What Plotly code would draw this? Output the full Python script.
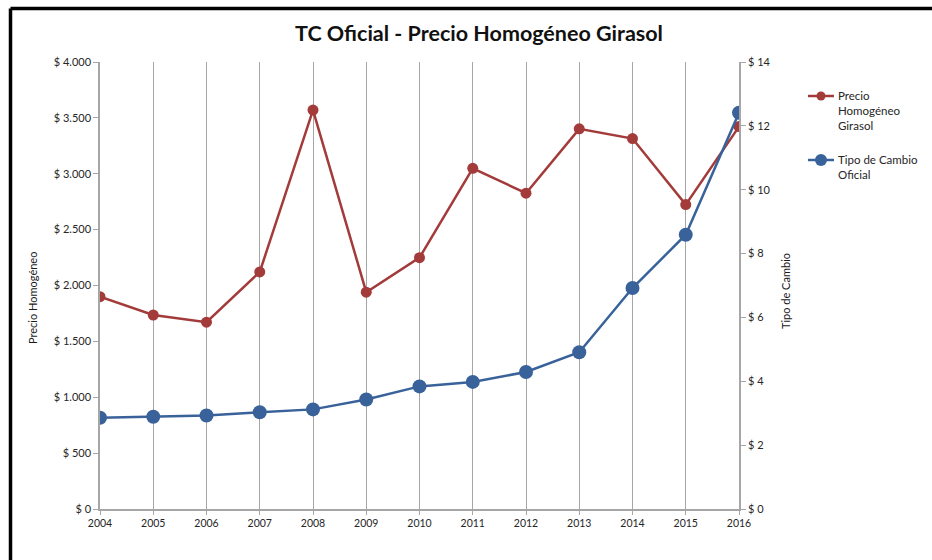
import plotly.graph_objects as go

# Years on the category axis
years = [2004, 2005, 2006, 2007, 2008, 2009, 2010, 2011, 2012, 2013, 2014, 2015, 2016]

# Precio Homogéneo Girasol ($ / t)
precio = [1900, 1736, 1672, 2121, 3570, 1940, 2249, 3049, 2826, 3402, 3315, 2724, 3422]

# Tipo de Cambio Oficial ($ por USD)
tipo_cambio = [2.86, 2.89, 2.93, 3.03, 3.12, 3.43, 3.84, 3.98, 4.29, 4.91, 6.92, 8.59, 12.41]

# Axis ticks
left_ticks = [0, 500, 1000, 1500, 2000, 2500, 3000, 3500, 4000]
left_labels = ["$ 0", "$ 500", "$ 1.000", "$ 1.500", "$ 2.000", "$ 2.500", "$ 3.000", "$ 3.500", "$ 4.000"]
right_ticks = [0, 2, 4, 6, 8, 10, 12, 14]
right_labels = ["$ 0", "$ 2", "$ 4", "$ 6", "$ 8", "$ 10", "$ 12", "$ 14"]

# Legend labels
series_names = ["Precio<br>Homogéneo<br>Girasol", "Tipo de Cambio<br>Oficial"]

RED = "#A23B3A"
BLUE = "#39629A"
GRID = "#A6A6A6"
FONT = "Lato, Open Sans, sans-serif"

fig = go.Figure()
fig.add_trace(go.Scatter(
    x=years, y=precio, name=series_names[0],
    mode="lines+markers", yaxis="y",
    line=dict(color=RED, width=2.5),
    marker=dict(color=RED, size=11),
))
fig.add_trace(go.Scatter(
    x=years, y=tipo_cambio, name=series_names[1],
    mode="lines+markers", yaxis="y2",
    line=dict(color=BLUE, width=2.5),
    marker=dict(color=BLUE, size=14),
))

W, H = 932, 560
L, R, T, B = 100, 193, 62, 51
pw, ph = W - L - R, H - T - B


def px_x(v):
    """Horizontal pixel position -> paper fraction."""
    return (v - L) / pw


def px_y(v):
    """Vertical pixel position (from top) -> paper fraction."""
    return (H - B - v) / ph


fig.update_layout(
    width=W, height=H,
    margin=dict(l=L, r=R, t=T, b=B, autoexpand=False),
    paper_bgcolor="white", plot_bgcolor="white",
    font=dict(family=FONT, size=11, color="#262626"),
    title=dict(
        text="<b>TC Oficial - Precio Homogéneo Girasol</b>",
        x=479 / W, xanchor="center", xref="container",
        y=1 - 33 / H, yanchor="middle", yref="container",
        font=dict(size=21.5, color="#111111", family=FONT),
    ),
    xaxis=dict(
        range=[2004, 2016], tickmode="array", tickvals=years,
        ticktext=[str(y) for y in years],
        showgrid=True, gridcolor=GRID, gridwidth=1.3,
        showline=True, linecolor=GRID, linewidth=1.5,
        ticks="outside", ticklen=4, tickcolor=GRID,
        zeroline=False, tickfont=dict(size=10.5),
    ),
    yaxis=dict(
        range=[0, 4000], tickmode="array", tickvals=left_ticks, ticktext=left_labels,
        showgrid=False, zeroline=False,
        showline=True, linecolor=GRID, linewidth=1.5,
        ticks="outside", ticklen=5, tickcolor=GRID,
        tickfont=dict(size=11),
    ),
    yaxis2=dict(
        range=[0, 14], tickmode="array", tickvals=right_ticks, ticktext=right_labels,
        overlaying="y", side="right",
        showgrid=False, zeroline=False,
        showline=True, linecolor=GRID, linewidth=1.5,
        ticks="outside", ticklen=5, tickcolor=GRID,
        tickfont=dict(size=11),
    ),
    showlegend=False,
)

# Axis titles
fig.add_annotation(
    text="Precio Homogéneo", textangle=-90, showarrow=False,
    xref="paper", yref="paper",
    x=px_x(32), y=px_y(298), xanchor="center", yanchor="middle",
    font=dict(size=11, color="#1a1a1a"),
)
fig.add_annotation(
    text="Tipo de Cambio", textangle=-90, showarrow=False,
    xref="paper", yref="paper",
    x=px_x(785), y=px_y(291), xanchor="center", yanchor="middle",
    font=dict(size=11, color="#1a1a1a"),
)

# Legend: line sample with marker, then the series label
legend_rows = [(96, RED, 9, series_names[0]), (160, BLUE, 12, series_names[1])]
for row_y, colour, dot, label in legend_rows:
    fig.add_shape(type="line", xref="paper", yref="paper",
                  x0=px_x(808), x1=px_x(834), y0=px_y(row_y), y1=px_y(row_y),
                  line=dict(color=colour, width=2.5), layer="above")
    fig.add_shape(type="circle", xref="paper", yref="paper",
                  x0=px_x(821 - dot / 2), x1=px_x(821 + dot / 2),
                  y0=px_y(row_y + dot / 2), y1=px_y(row_y - dot / 2),
                  fillcolor=colour, line=dict(color=colour, width=0), layer="above")
    fig.add_annotation(
        text=label, showarrow=False, align="left",
        xref="paper", yref="paper",
        x=px_x(836), y=px_y(row_y - 9), xanchor="left", yanchor="top",
        font=dict(size=11.5, color="#262626"),
    )

# Outer chart frame: left and top edges
frame_left = px_x(10.5)
frame_top = px_y(8.5)
fig.add_shape(type="line", xref="paper", yref="paper",
              x0=frame_left, x1=frame_left, y0=px_y(H), y1=frame_top,
              line=dict(color="black", width=3.5), layer="above")
fig.add_shape(type="line", xref="paper", yref="paper",
              x0=frame_left, x1=px_x(W), y0=frame_top, y1=frame_top,
              line=dict(color="black", width=3.5), layer="above")

fig.write_html("out.html")
